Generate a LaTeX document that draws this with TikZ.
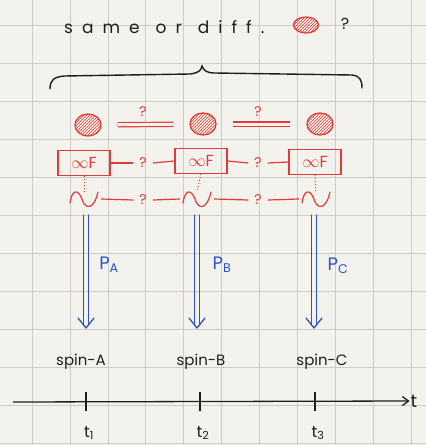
\documentclass[tikz,border=0pt]{standalone}
\usepackage{fontspec}
\setmainfont{Poppins}
\newfontfamily\spacedfont[LetterSpace=53]{Poppins}
\usetikzlibrary{arrows.meta,patterns,calc,shapes.geometric}
\definecolor{paper}{HTML}{F4F2EC}
\definecolor{gridc}{HTML}{CDCDC8}
\definecolor{pen}{HTML}{1E1E1E}
\definecolor{redpen}{HTML}{E53935}
\definecolor{bluepen}{HTML}{2D4FD6}
\tikzset{
  blob/.style={ellipse, draw=redpen, line width=1.3pt, pattern=north east lines, pattern color=redpen, minimum width=26pt, minimum height=22pt, inner sep=0pt},
  ofbox/.style={draw=redpen, line width=1.2pt, text=redpen, minimum width=52pt, minimum height=25pt, inner sep=0pt, font=\fontsize{16}{16}\selectfont},
  qmark/.style={text=redpen, inner sep=1pt, font=\fontsize{14}{14}\selectfont},
  redline/.style={redpen, line width=1.2pt},
  wavebox/.style={minimum width=28pt, minimum height=18pt, inner sep=0pt},
  blueline/.style={bluepen, line width=1.3pt, line cap=round, line join=round},
  lbl/.style={text=pen, font=\fontsize{15}{15}\selectfont, inner sep=1pt},
  plbl/.style={text=bluepen, font=\fontsize{18}{18}\selectfont, inner sep=1pt},
}
\begin{document}
\begin{tikzpicture}[x=1pt,y=-1pt]
\useasboundingbox (0,0) rectangle (426,445);
\fill[paper] (0,0) rectangle (426,445);
% grid
\foreach \gx in {0,...,10} \draw[gridc, line width=0.6pt] ({32+37.9*\gx},0) -- ({32+37.9*\gx},445);
\foreach \gy in {0,...,11} \draw[gridc, line width=0.6pt] (0,{25+38*\gy}) -- (426,{25+38*\gy});

% title
\node[lbl, anchor=west, font=\spacedfont\fontsize{17}{17}\selectfont] (title) at (63,27) {same\hspace{16pt}or\hspace{16pt}diff.};
\node[blob, minimum width=25pt, minimum height=16pt] (tb) at (306,25) {};
\node[lbl, font=\fontsize{16}{16}\selectfont] (tq) at (345,24) {?};

% brace
\draw[pen, line width=1.4pt, line cap=round] (50,89) .. controls (50,80) and (54,77) .. (64,76)
  -- (190,74) .. controls (198,73) and (201,71) .. (202,66)
  .. controls (204,71) and (207,73) .. (215,73) -- (352,75) .. controls (360,76) and (362,80) .. (362,88);

% circles
\node[blob] (c1) at (88,125) {};
\node[blob] (c2) at (203,124) {};
\node[blob] (c3) at (320,124) {};
\draw[redpen, line width=1.2pt, double=paper, double distance=3pt, shorten <=16pt, shorten >=16pt] (c1) -- (c2);
\draw[redpen, line width=1.2pt, double=paper, double distance=3pt, shorten <=16pt, shorten >=16pt] (c2) -- (c3);
\node[qmark] (cq1) at (143,112) {?};
\node[qmark] (cq2) at (258,112) {?};

% boxes
\node[ofbox] (f1) at (84,163) {$\infty$F};
\node[ofbox] (f2) at (201,161) {$\infty$F};
\node[ofbox] (f3) at (315,162) {$\infty$F};
\node[qmark] (fq1) at (143,163) {?};
\node[qmark] (fq2) at (258,163) {?};
\draw[redline] (f1.east) -- ([xshift=-5pt]fq1.west);
\draw[redline] ([xshift=5pt]fq1.east) -- (f2.west);
\draw[redline] (f2.east) -- ([xshift=-5pt]fq2.west);
\draw[redline] ([xshift=5pt]fq2.east) -- (f3.west);

% waves
\node[wavebox] (w1) at (84,199) {};
\node[wavebox] (w2) at (197,199) {};
\node[wavebox] (w3) at (316,199) {};
\foreach \w in {w1,w2,w3}{
  \draw[redline, line cap=round] ($(\w)+(-14,4)$) .. controls ($(\w)+(-12,-10)$) and ($(\w)+(-6,-10)$) .. ($(\w)+(-2,0)$)
     .. controls ($(\w)+(1,11)$) and ($(\w)+(10,11)$) .. ($(\w)+(14,-7)$);
}
\draw[redpen, line width=1pt, dotted] (f1.south) -- ($(w1.north)+(0,2)$);
\draw[redpen, line width=1pt, dotted] (f2.south) -- ($(w2.north)+(0,2)$);
\draw[redpen, line width=1pt, dotted] (f3.south) -- ($(w3.north)+(0,2)$);
\node[qmark] (wq1) at (143,200) {?};
\node[qmark] (wq2) at (258,200) {?};
\draw[redline] ([xshift=3pt]w1.east) -- ([xshift=-5pt]wq1.west);
\draw[redline] ([xshift=5pt]wq1.east) -- ([xshift=-3pt]w2.west);
\draw[redline] ([xshift=3pt]w2.east) -- ([xshift=-5pt]wq2.west);
\draw[redline] ([xshift=5pt]wq2.east) -- ([xshift=-3pt]w3.west);

% blue arrows (double shaft, open V head)
\coordinate (a1s) at (86,215); \coordinate (a1e) at (86,328);
\coordinate (a2s) at (197,215); \coordinate (a2e) at (197,328);
\coordinate (a3s) at (314,215); \coordinate (a3e) at (314,328);
\foreach \s/\e in {a1s/a1e,a2s/a2e,a3s/a3e}{
  \draw[blueline] ($(\s)+(-2.6,0)$) -- ($(\e)+(-2.6,-3)$);
  \draw[blueline] ($(\s)+(2.6,0)$) -- ($(\e)+(2.6,-3)$);
  \draw[blueline] ($(\e)+(-8,-10)$) -- (\e) -- ($(\e)+(8,-10)$);
}
\node[plbl] (pa) at (109,265) {P\textsubscript{A}};
\node[plbl] (pb) at (222,265) {P\textsubscript{B}};
\node[plbl] (pc) at (338,266) {P\textsubscript{C}};

% spins
\node[lbl] (sa) at (81,362) {spin-A};
\node[lbl] (sb) at (201,362) {spin-B};
\node[lbl] (sc) at (322,362) {spin-C};

% axis
\coordinate (ax0) at (13,402);
\node[lbl, font=\fontsize{18}{18}\selectfont] (tt) at (414,401) {t};
\draw[pen, line width=1.3pt, -{Straight Barb[length=6pt,width=9pt]}] (ax0) -- (tt.west);
\foreach \tx/\tn in {86/1,200/2,315/3}{
  \draw[pen, line width=1.5pt] (\tx,392) -- (\tx,411);
  \node[lbl, font=\fontsize{16}{16}\selectfont] (tl\tn) at (\tx+3,433) {t\textsubscript{\tn}};
}
\end{tikzpicture}
\end{document}
